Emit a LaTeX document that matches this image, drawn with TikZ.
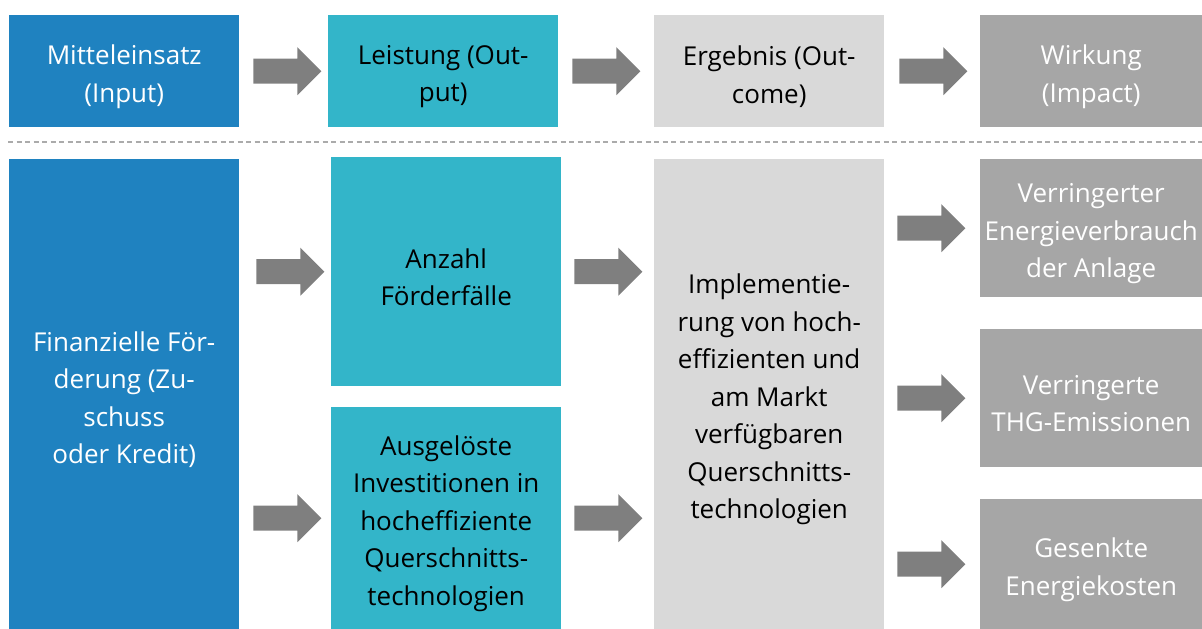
\documentclass[tikz,border=0pt]{standalone}
\usepackage{fontspec}
\setmainfont{Open Sans}
\usetikzlibrary{calc}
\definecolor{cblue}{HTML}{1F82C0}
\definecolor{cteal}{HTML}{33B5C9}
\definecolor{clgray}{HTML}{D9D9D9}
\definecolor{cgray}{HTML}{A6A6A6}
\definecolor{carrow}{HTML}{7F7F7F}
\definecolor{cdash}{HTML}{ABABAB}
\newcommand\barrow[3]{%
  \fill[carrow] let \p1=(#1.east), \p2=(#2.center) in
    (\x1+#3,\y2+12.5pt) -- (\x1+#3+44pt,\y2+12.5pt) -- (\x1+#3+44pt,\y2+24pt)
    -- (\x1+#3+68pt,\y2) -- (\x1+#3+44pt,\y2-24pt) -- (\x1+#3+44pt,\y2-12.5pt)
    -- (\x1+#3,\y2-12.5pt) -- cycle;}
% box: name, x, y, w, h, style, text
\newcommand\tbox[7]{%
  \node[anchor=north west,inner sep=0pt,minimum width=#4pt,minimum height=#5pt,#6] (#1) at (#2,#3) {};
  \node[txt,#6-t] (#1-t) at ($(#1.center)+(0,5.5)$) {#7};}
\begin{document}
\begin{tikzpicture}[x=1pt,y=-1pt,
  txt/.style={inner sep=0pt,align=center,
    font=\fontsize{26}{37.5}\selectfont},
  bluebox/.style={fill=cblue},   bluebox-t/.style={text=white},
  tealbox/.style={fill=cteal},   tealbox-t/.style={text=black},
  lgraybox/.style={fill=clgray}, lgraybox-t/.style={text=black},
  graybox/.style={fill=cgray},   graybox-t/.style={text=white}]
\useasboundingbox (0,0) rectangle (1202,629);
% top row
\tbox{in}{9}{15}{230}{112}{bluebox}{Mitteleinsatz\\(Input)}
\tbox{out}{328}{15}{230}{112}{tealbox}{Leistung (Out-\\put)}
\tbox{outc}{654}{15}{230}{112}{lgraybox}{Ergebnis (Out-\\come)}
\tbox{imp}{980}{15}{222}{112}{graybox}{Wirkung\\(Impact)}
% separator
\coordinate (dl) at (8,142);
\coordinate (dr) at (1202,142);
\draw[cdash,line width=2pt,dash pattern=on 5pt off 3.5pt] (dl) -- (dr);
% bottom row
\tbox{fin}{9}{159}{230}{470}{bluebox}{Finanzielle För-\\derung (Zu-\\schuss\\oder Kredit)}
\tbox{anz}{331}{157}{230}{229}{tealbox}{Anzahl\\Förderfälle}
\tbox{aus}{331}{407}{230}{222}{tealbox}{Ausgelöste\\Investitionen in\\hocheffiziente\\Querschnitts-\\technologien}
\tbox{impl}{654}{159}{230}{470}{lgraybox}{Implementie-\\rung von hoch-\\effizienten und\\am Markt\\verfügbaren\\Querschnitts-\\technologien}
\tbox{v1}{980}{159}{222}{138}{graybox}{Verringerter\\Energieverbrauch\\der Anlage}
\tbox{v2}{980}{329}{222}{138}{graybox}{Verringerte\\THG-Emissionen}
\tbox{v3}{980}{499}{222}{130}{graybox}{Gesenkte\\Energiekosten}
% arrows
\barrow{in}{in}{14pt}
\barrow{out}{in}{14pt}
\barrow{outc}{in}{15pt}
\barrow{fin}{anz}{17pt}
\barrow{fin}{aus}{14pt}
\barrow{anz}{anz}{13pt}
\barrow{aus}{aus}{13pt}
\barrow{impl}{v1}{13pt}
\barrow{impl}{v2}{13pt}
\barrow{impl}{v3}{13pt}
\end{tikzpicture}
\end{document}
